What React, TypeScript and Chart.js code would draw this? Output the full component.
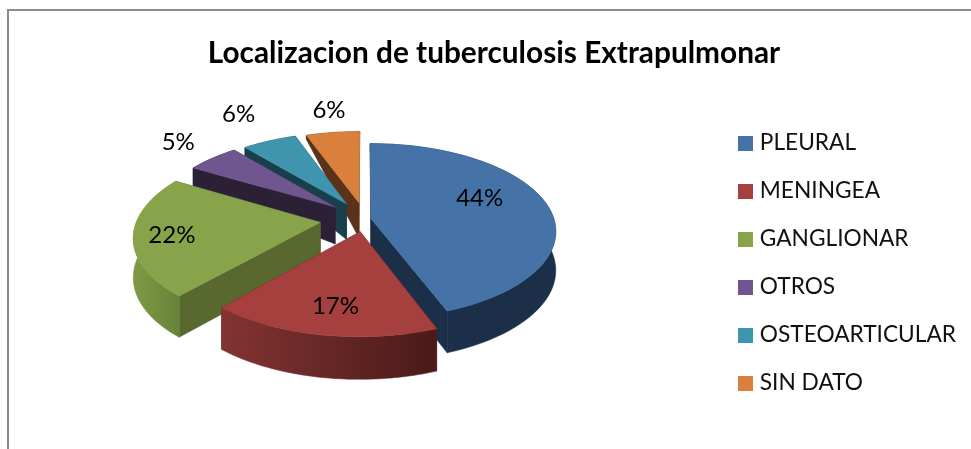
import React, { useEffect, useRef } from "react";
import { Chart, registerables } from "chart.js";

Chart.register(...registerables);

const categories = ["PLEURAL", "MENINGEA", "GANGLIONAR", "OTROS", "OSTEOARTICULAR", "SIN DATO"];
const percentages = [44.2, 17.2, 22.1, 5.4, 5.6, 5.5];
const topColors = ["#4572A7", "#A5403E", "#87A44B", "#70568F", "#3F95AE", "#D9803D"];
const wallLeft = ["#1B2F48", "#823432", "#7F9A45", "#2C2036", "#1A3F4C", "#5A3318"];
const wallRight = ["#1B2F48", "#4A1A18", "#66843A", "#2C2036", "#1A3F4C", "#5A3318"];
const cutColors = ["#1B2F48", "#5C2321", "#58682F", "#2C2036", "#1A3F4C", "#5A3318"];
const explode = [6, 27, 45, 40, 38, 36];
const labelReach = [0.63, 0.77, 0.82, 1.34, 1.47, 1.34];
const labelBearing = [70, 190, 258, 310, 329, 350];

const FONT = "Lato";
const VIEW = { x: 365, y: 219, tilt: 0.469, persp: 0.000788 };

function proj(wx: number, wy: number, down = false) {
  const p = 1 / (1 - VIEW.persp * wy);
  let sy = VIEW.y + wy * VIEW.tilt * p;
  if (down) {
    sy += wy < -20 ? 38 + (wy + 20) * 0.18 : 38 + (wy + 20) * 0.02;
  }
  return [VIEW.x + wx * p, sy];
}

function swatch(color: string) {
  const c = document.createElement("canvas");
  c.width = 15;
  c.height = 15;
  const g = c.getContext("2d") as CanvasRenderingContext2D;
  g.fillStyle = color;
  g.fillRect(0, 0, 15, 15);
  return c;
}

const pie3d = {
  id: "pie3d",
  beforeDatasetsDraw(chart: any) {
    const ctx = chart.ctx;
    const arcs = chart.getDatasetMeta(0).data;
    const slices = arcs.map((arc: any, i: number) => {
      const { startAngle, endAngle, outerRadius } = arc.getProps(["startAngle", "endAngle", "outerRadius"], true);
      const mid = (startAngle + endAngle) / 2;
      const off = arc.options.offset || 0;
      const ax = off * Math.cos(mid);
      const ay = off * Math.sin(mid);
      const pts: number[][] = [];
      const n = 60;
      for (let k = 0; k <= n; k++) {
        const a = startAngle + ((endAngle - startAngle) * k) / n;
        pts.push([ax + outerRadius * Math.cos(a), ay + outerRadius * Math.sin(a)]);
      }
      return { i, ax, ay, pts, R: outerRadius, order: ay + (outerRadius / 2) * Math.sin(mid) * 0.3 };
    });
    slices.sort((a: any, b: any) => a.order - b.order);
    const poly = (list: number[][]) => {
      ctx.beginPath();
      list.forEach((q, j) => (j ? ctx.lineTo(q[0], q[1]) : ctx.moveTo(q[0], q[1])));
      ctx.closePath();
    };
    for (const s of slices) {
      const top = s.pts.map((q: number[]) => proj(q[0], q[1]));
      const bot = s.pts.map((q: number[]) => proj(q[0], q[1], true));
      const a0 = proj(s.ax, s.ay);
      const a1 = proj(s.ax, s.ay, true);
      ctx.fillStyle = cutColors[s.i];
      ctx.strokeStyle = cutColors[s.i];
      ctx.lineWidth = 0.5;
      poly([a0, top[0], bot[0], a1]);
      ctx.fill();
      ctx.stroke();
      poly([a0, top[top.length - 1], bot[bot.length - 1], a1]);
      ctx.fill();
      ctx.stroke();
      const xs = top.map((q: number[]) => q[0]);
      const minX = Math.min(...xs);
      const maxX = Math.max(...xs);
      const g = ctx.createLinearGradient(minX, 0, maxX, 0);
      g.addColorStop(0, wallLeft[s.i]);
      g.addColorStop(1, wallRight[s.i]);
      ctx.fillStyle = g;
      ctx.strokeStyle = g;
      poly([...top, ...bot.slice().reverse()]);
      ctx.fill();
      ctx.stroke();
      ctx.fillStyle = topColors[s.i];
      ctx.strokeStyle = topColors[s.i];
      poly([a0, ...top]);
      ctx.fill();
      ctx.stroke();
    }
    ctx.fillStyle = "#000";
    ctx.font = `24px ${FONT}`;
    ctx.textAlign = "center";
    ctx.textBaseline = "middle";
    slices.forEach((s: any) => {
      const b = (labelBearing[s.i] * Math.PI) / 180;
      const r = labelReach[s.i] * s.R;
      const q = proj(s.ax + r * Math.sin(b), s.ay - r * Math.cos(b));
      ctx.fillText(`${Math.round(percentages[s.i])}%`, q[0] + 4, q[1] - 2);
    });
    return false;
  },
};

export default function App() {
  const ref = useRef<HTMLCanvasElement>(null);
  useEffect(() => {
    const baseLabels = (Chart as any).overrides.pie.plugins.legend.labels.generateLabels;
    const chart = new Chart(ref.current as HTMLCanvasElement, {
      type: "pie",
      data: {
        labels: categories,
        datasets: [
          {
            data: percentages,
            backgroundColor: topColors,
            borderWidth: 0,
            offset: explode,
            radius: 183,
          } as any,
        ],
      },
      options: {
        responsive: false,
        animation: false,
        layout: { padding: { left: 22, right: 15, top: 36, bottom: 0 } },
        plugins: {
          tooltip: { enabled: false },
          title: {
            display: true,
            text: "Localizacion de tuberculosis Extrapulmonar",
            color: "#000",
            font: { family: FONT, size: 29.8, weight: "bold" },
            padding: { top: 0, bottom: 10 },
          },
          legend: {
            position: "right",
            align: "center",
            labels: {
              usePointStyle: true,
              pointStyleWidth: 6,
              boxHeight: 15,
              padding: 25.3,
              color: "#111",
              font: { family: FONT, size: 22.7 },
              generateLabels: (c: any) =>
                baseLabels(c).map((item: any, i: number) => ({ ...item, pointStyle: swatch(topColors[i]) })),
            },
          },
        },
      },
      plugins: [pie3d],
    } as any);
    return () => chart.destroy();
  }, []);
  return (
    <div style={{ position: "fixed", left: 0, top: 0, width: 971, height: 449, overflow: "hidden", background: "#fff" }}>
      <canvas ref={ref} width={981} height={490} style={{ display: "block", position: "absolute", left: 0, top: 0 }} />
      <div style={{ position: "absolute", left: 7, top: 9, width: 964, height: 440, borderLeft: "2px solid #8c8c8c", borderTop: "2px solid #8c8c8c", boxSizing: "border-box", pointerEvents: "none" }} />
    </div>
  );
}
